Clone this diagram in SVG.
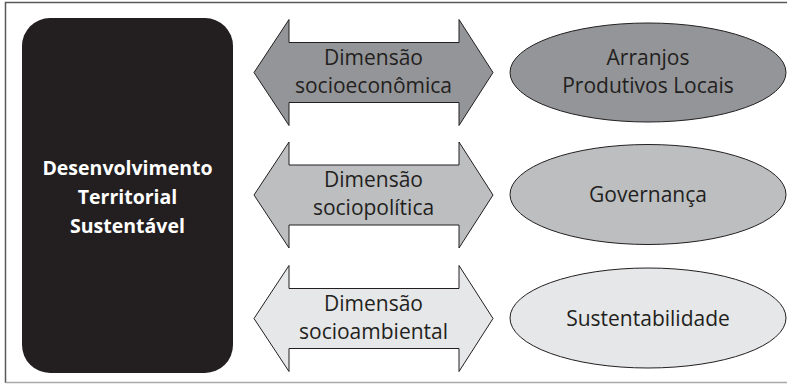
<svg xmlns="http://www.w3.org/2000/svg" width="787" height="385" viewBox="0 0 787 385">
<style>
.t{font-family:"Open Sans","Noto Sans",sans-serif;font-size:21px;fill:#231f20;text-anchor:middle}
.b{font-family:"Open Sans","Noto Sans",sans-serif;font-size:19.5px;font-weight:bold;fill:#ffffff;text-anchor:middle}
.s{stroke:#231f20;stroke-width:1}
.g1{fill:#939598}.g2{fill:#bcbec0}.g3{fill:#e6e7e8}
</style>
<rect x="0" y="0" width="787" height="385" fill="#ffffff"/>
<path d="M5.5 383V2.5H787" fill="none" stroke="#58595b" stroke-width="1.5"/>
<path d="M5.5 382.5H787" fill="none" stroke="#a7a9ac" stroke-width="1.5"/>
<g id="node-dts">
<rect x="22" y="18" width="211" height="355" rx="28" fill="#231f20"/>
<text class="b" x="127.5" y="175">Desenvolvimento</text>
<text class="b" x="127.5" y="204">Territorial</text>
<text class="b" x="127.5" y="233">Sustentável</text>
</g>
<g id="connectors">
<g id="arrow-socioeconomica">
<polygon class="s g1" points="254,72.5 289,19.5 289,42.5 459,42.5 459,19.5 493,72.5 459,125.5 459,102.5 289,102.5 289,125.5"/>
<text class="t" x="373.5" y="65">Dimensão</text>
<text class="t" x="373.5" y="93">socioeconômica</text>
</g>
<g id="arrow-sociopolitica">
<polygon class="s g2" points="254,195 289,142 289,165 459,165 459,142 493,195 459,248 459,225 289,225 289,248"/>
<text class="t" x="373.5" y="187">Dimensão</text>
<text class="t" x="373.5" y="215">sociopolítica</text>
</g>
<g id="arrow-socioambiental">
<polygon class="s g3" points="254,318.5 289,265.5 289,288.5 459,288.5 459,265.5 493,318.5 459,371.5 459,348.5 289,348.5 289,371.5"/>
<text class="t" x="373.5" y="311">Dimensão</text>
<text class="t" x="373.5" y="339">socioambiental</text>
</g>
</g>
<g id="node-apl">
<ellipse class="s g1" cx="648" cy="72.5" rx="138" ry="49.5"/>
<text class="t" x="648" y="65">Arranjos</text>
<text class="t" x="648" y="93">Produtivos Locais</text>
</g>
<g id="node-governanca">
<ellipse class="s g2" cx="648" cy="194.5" rx="138" ry="50"/>
<text class="t" x="648" y="202">Governança</text>
</g>
<g id="node-sustentabilidade">
<ellipse class="s g3" cx="648" cy="318" rx="138" ry="50"/>
<text class="t" x="648" y="326">Sustentabilidade</text>
</g>
</svg>
